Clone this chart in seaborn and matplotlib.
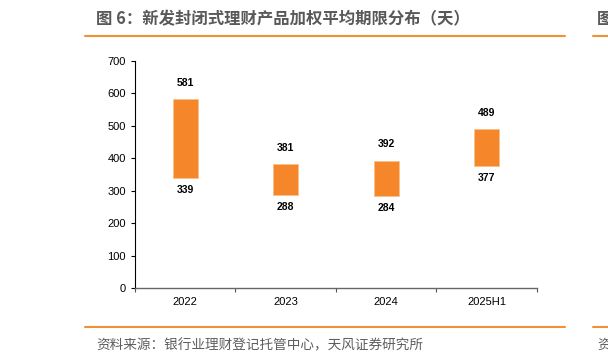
import numpy as np
import pandas as pd
import matplotlib
matplotlib.use("Agg")
import matplotlib.pyplot as plt
import seaborn as sns
from matplotlib.lines import Line2D

# data
periods = ["2022", "2023", "2024", "2025H1"]
low_vals = [339, 288, 284, 377]
high_vals = [581, 381, 392, 489]

title = "图 6：新发封闭式理财产品加权平均期限分布（天）"
source = "资料来源：银行业理财登记托管中心，天风证券研究所"

sns.set_theme(style="white")
plt.rcParams["font.family"] = ["Liberation Sans", "Noto Sans CJK SC", "DejaVu Sans"]

orange = "#F5872A"
line_orange = "#F0913A"
cjk = ["Noto Sans CJK SC", "DejaVu Sans"]

df = pd.DataFrame({"period": periods, "low": low_vals, "high": high_vals})
df["span"] = df["high"] - df["low"]

fig = plt.figure(figsize=(6.08, 3.63), dpi=100)
ax = fig.add_axes([0.222, 0.206, 0.661, 0.627])

sns.barplot(data=df, x="period", y="span", bottom=df["low"].values,
            color=orange, saturation=1, width=0.25,
            edgecolor="#FBC08A", linewidth=0.6, ax=ax)

# value labels above and below each bar
for i, row in df.iterrows():
    ax.annotate(f"{row['high']}", (i, row["high"]), xytext=(0, 12),
                textcoords="offset points", ha="center", va="center",
                fontsize=7.5, fontweight="bold", color="black")
    ax.annotate(f"{row['low']}", (i, row["low"]), xytext=(0, -9),
                textcoords="offset points", ha="center", va="center",
                fontsize=7.5, fontweight="bold", color="black")

ax.set_ylim(0, 700)
ax.set_xlim(-0.5, 3.5)
ax.set_yticks(np.arange(0, 701, 100))
ax.set_xlabel("")
ax.set_ylabel("")
ax.set_xticks(np.arange(-0.5, 3.6, 1.0), minor=True)
ax.tick_params(axis="x", which="major", length=0, labelsize=8, pad=6, colors="black")
ax.tick_params(axis="x", which="minor", length=3, width=0.8, color="#555555", bottom=True)
ax.tick_params(axis="y", length=3, width=0.8, labelsize=8, left=True, colors="black")
for s in ["top", "right"]:
    ax.spines[s].set_visible(False)
ax.spines["left"].set_color("black")
ax.spines["left"].set_linewidth(0.8)
ax.spines["bottom"].set_color("#666666")
ax.spines["bottom"].set_linewidth(1.0)

# frame lines and texts of the report page
fig.add_artist(Line2D([85 / 608, 565 / 608], [1 - 36 / 363] * 2, color=line_orange, lw=1.5))
fig.add_artist(Line2D([85 / 608, 565 / 608], [1 - 327 / 363] * 2, color=line_orange, lw=1.5))
fig.add_artist(Line2D([593 / 608, 1.0], [1 - 36 / 363] * 2, color=line_orange, lw=1.5))
fig.add_artist(Line2D([593 / 608, 1.0], [1 - 327 / 363] * 2, color=line_orange, lw=1.5))

fig.text(96 / 608, 1 - 19 / 363, title, fontsize=11.8, fontweight="bold",
         color="#595959", va="center", ha="left", family=cjk)
fig.text(96 / 608, 1 - 345 / 363, source, fontsize=9.8, color="#5E5E5E",
         va="center", ha="left", family=cjk)
fig.text(597 / 608, 1 - 19 / 363, "图", fontsize=11.8, fontweight="bold",
         color="#595959", va="center", ha="left", family=cjk)
fig.text(597 / 608, 1 - 345 / 363, "资", fontsize=9.8, color="#5E5E5E",
         va="center", ha="left", family=cjk)

fig.savefig("out.png", dpi=100)
